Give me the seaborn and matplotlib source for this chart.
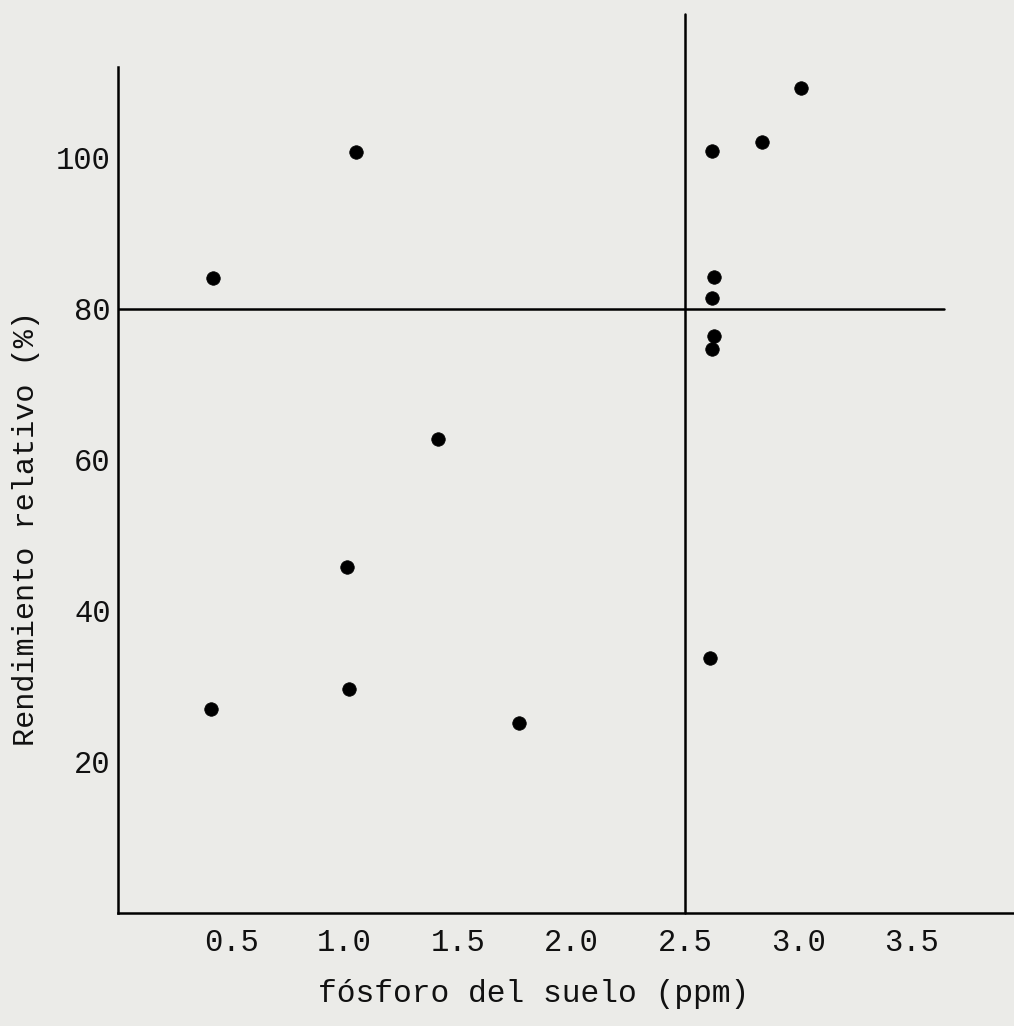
import matplotlib
matplotlib.use("Agg")
import matplotlib.pyplot as plt
import seaborn as sns
import pandas as pd

# Data
fosforo = [0.41, 0.42, 1.05, 1.01, 1.02, 1.41, 1.77, 2.62, 2.63, 2.62, 2.63, 2.62, 2.61, 2.84, 3.01]
rendimiento = [27.0, 84.1, 100.7, 45.8, 29.7, 62.8, 25.1, 100.8, 84.2, 81.4, 76.3, 74.6, 33.8, 102.1, 109.2]
x_ticks = [0.5, 1.0, 1.5, 2.0, 2.5, 3.0, 3.5]
x_tick_labels = ["0.5", "1.0", "1.5", "2.0", "2.5", "3.0", "3.5"]
y_ticks = [20, 40, 60, 80, 100]
y_tick_labels = ["20", "40", "60", "80", "100"]
critical_x = 2.5
critical_y = 80

df = pd.DataFrame({"fosforo": fosforo, "rendimiento": rendimiento})

sns.set_style("white")
plt.rcParams["font.family"] = ["Liberation Mono", "DejaVu Sans Mono"]

paper = "#ebebe8"
fig = plt.figure(figsize=(10.14, 10.26), dpi=100, facecolor=paper)
ax = fig.add_axes([0.116, 0.110, 0.884, 0.825])
ax.set_facecolor(paper)

sns.scatterplot(data=df, x="fosforo", y="rendimiento", ax=ax, color="black",
                s=95, edgecolor="black", linewidth=0.5, zorder=3)

ax.set_xlim(0, 3.95)
ax.set_ylim(0, 112)

ax.axvline(critical_x, ymin=0, ymax=1.062, color="black", lw=1.8, clip_on=False)
ax.axhline(critical_y, xmin=0, xmax=3.64 / 3.95, color="black", lw=1.8)

for s in ["top", "right"]:
    ax.spines[s].set_visible(False)
for s in ["left", "bottom"]:
    ax.spines[s].set_color("black")
    ax.spines[s].set_linewidth(1.8)

ax.set_xticks(x_ticks)
ax.set_xticklabels(x_tick_labels)
ax.set_yticks(y_ticks)
ax.set_yticklabels(y_tick_labels)
ax.tick_params(axis="both", direction="inout", length=6, width=1.2, color="black",
               labelsize=22, labelcolor="#111111")
ax.tick_params(axis="x", pad=8)
ax.tick_params(axis="y", pad=2)

ax.set_xlabel("fósforo del suelo (ppm)", fontsize=22.5, color="#111111")
ax.xaxis.set_label_coords(0.464, -0.078)
ax.set_ylabel("Rendimiento relativo (%)", fontsize=21.8, color="#111111")
ax.yaxis.set_label_coords(-0.087, 0.455)

fig.savefig("out.png", dpi=100, facecolor=paper)
